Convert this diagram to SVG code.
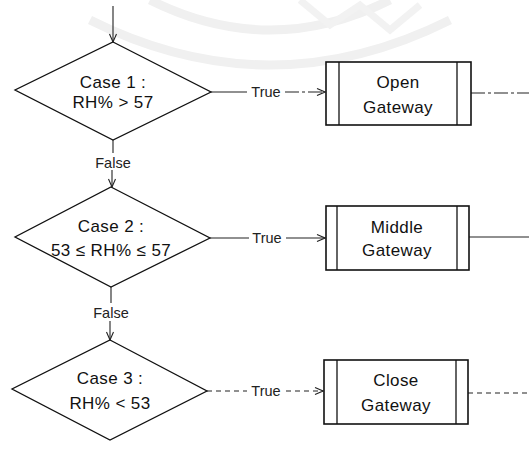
<svg xmlns="http://www.w3.org/2000/svg" width="529" height="469" viewBox="0 0 529 469">
<style>
.shape{fill:none;stroke:#111;stroke-width:1.3}
.box{fill:#fff;stroke:#111;stroke-width:1.6}
.conn{fill:none;stroke:#222;stroke-width:1.1}
.dash{stroke-dasharray:14 3 3 3}
.dash2{stroke-dasharray:5 4}
.t{font-family:"Liberation Sans",Arial,sans-serif;font-size:17px;letter-spacing:0.4px;fill:#111;text-anchor:middle}
.lbl{font-family:"Liberation Sans",Arial,sans-serif;font-size:14.5px;fill:#222;text-anchor:middle}
.wm{fill:none;stroke:#f0f0f0;stroke-width:9}
</style>
<defs>
<marker id="arr" markerWidth="10" markerHeight="10" refX="9" refY="5" orient="auto" markerUnits="userSpaceOnUse">
<polyline points="1,1.5 9,5 1,8.5" fill="none" stroke="#222" stroke-width="1.1"/>
</marker>
</defs>
<rect width="529" height="469" fill="#fff"/>
<g id="watermark">
<path class="wm" d="M90,20 Q270,110 450,20"/>
<path class="wm" d="M150,0 Q270,60 390,0"/>
<path d="M300,0 L330,25 L360,5 L390,30 L420,5" fill="none" stroke="#f2f2f2" stroke-width="7"/>
</g>
<g id="connectors">
<line class="conn" x1="113" y1="6" x2="113" y2="42" marker-end="url(#arr)"/>
<line class="conn" x1="113" y1="140" x2="113" y2="153"/>
<line class="conn" x1="112" y1="170" x2="112" y2="187" marker-end="url(#arr)"/>
<line class="conn" x1="111" y1="287" x2="111" y2="303"/>
<line class="conn" x1="110" y1="321" x2="110" y2="340" marker-end="url(#arr)"/>
<line class="conn" x1="211" y1="92" x2="247" y2="92"/>
<line class="conn dash" x1="285" y1="92" x2="325" y2="92" marker-end="url(#arr)"/>
<line class="conn dash" x1="471" y1="93" x2="529" y2="93"/>
<line class="conn" x1="210" y1="238" x2="249" y2="238"/>
<line class="conn" x1="286" y1="238" x2="325" y2="238" marker-end="url(#arr)"/>
<line class="conn" x1="469" y1="237" x2="529" y2="237"/>
<line class="conn dash2" x1="207" y1="391" x2="247" y2="391"/>
<line class="conn dash2" x1="286" y1="391" x2="323" y2="391" marker-end="url(#arr)"/>
<line class="conn dash2" x1="468" y1="393" x2="529" y2="393"/>
<text class="lbl" x="266" y="97">True</text>
<text class="lbl" x="267" y="243">True</text>
<text class="lbl" x="266" y="396">True</text>
<text class="lbl" x="113" y="168">False</text>
<text class="lbl" x="111" y="318">False</text>
</g>
<g id="case1">
<polygon class="shape" points="113,42 211,92 113,140 15,90"/>
<text class="t" x="113" y="88">Case 1 :</text>
<text class="t" x="113" y="108">RH% &gt; 57</text>
</g>
<g id="case2">
<polygon class="shape" points="111,187 210,238 111,287 15,237"/>
<text class="t" x="111" y="232">Case 2 :</text>
<text class="t" x="111" y="256">53 ≤ RH% ≤  57</text>
</g>
<g id="case3">
<polygon class="shape" points="110,340 207,391 110,440 12,389"/>
<text class="t" x="110" y="384">Case 3 :</text>
<text class="t" x="110" y="409">RH% &lt; 53</text>
</g>
<g id="open">
<rect class="box" x="326" y="62" width="145" height="63"/>
<line class="shape" x1="339" y1="62" x2="339" y2="125"/>
<line class="shape" x1="457" y1="62" x2="457" y2="125"/>
<text class="t" x="398" y="88">Open</text>
<text class="t" x="398" y="113">Gateway</text>
</g>
<g id="middle">
<rect class="box" x="326" y="206" width="143" height="64"/>
<line class="shape" x1="337" y1="206" x2="337" y2="270"/>
<line class="shape" x1="457" y1="206" x2="457" y2="270"/>
<text class="t" x="397" y="233">Middle</text>
<text class="t" x="397" y="256">Gateway</text>
</g>
<g id="close">
<rect class="box" x="324" y="360" width="144" height="64"/>
<line class="shape" x1="337" y1="360" x2="337" y2="424"/>
<line class="shape" x1="456" y1="360" x2="456" y2="424"/>
<text class="t" x="396" y="386">Close</text>
<text class="t" x="396" y="411">Gateway</text>
</g>
</svg>
